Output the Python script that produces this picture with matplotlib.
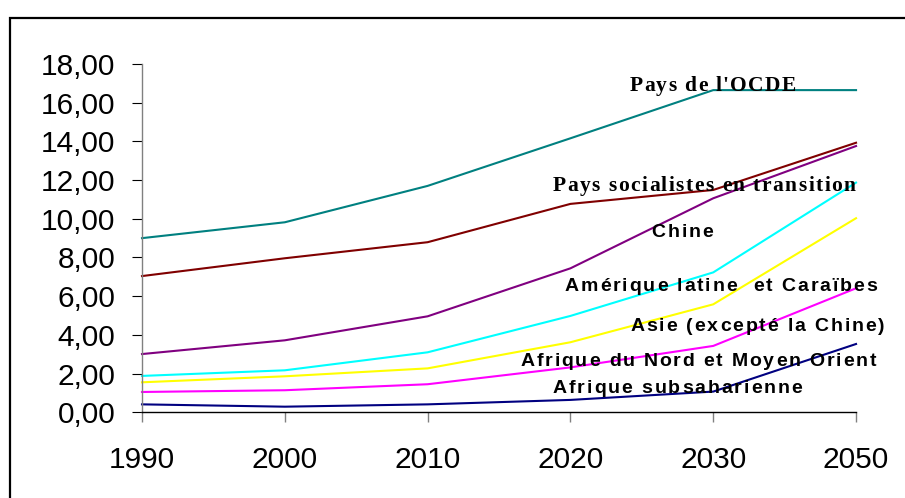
import matplotlib.pyplot as plt
import matplotlib.patches as patches
from matplotlib import font_manager, transforms
from matplotlib.ft2font import FT2Font
from matplotlib.ticker import FuncFormatter

DPI = 100

years = ["1990", "2000", "2010", "2020", "2030", "2050"]

ocde = [9.00, 9.82, 11.70, 14.16, 16.65, 16.65]
socialistes = [7.04, 7.96, 8.79, 10.77, 11.49, 13.93]
chine = [3.01, 3.72, 4.96, 7.44, 11.06, 13.76]
amerique_latine = [1.88, 2.17, 3.10, 4.98, 7.23, 11.87]
asie = [1.55, 1.86, 2.27, 3.62, 5.58, 10.03]
afrique_nord = [1.05, 1.14, 1.45, 2.32, 3.43, 6.41]
afrique_sub = [0.41, 0.29, 0.41, 0.64, 1.07, 3.53]

series = [
    (ocde, "#008080"),
    (socialistes, "#800000"),
    (chine, "#800080"),
    (amerique_latine, "#00FFFF"),
    (asie, "#FFFF00"),
    (afrique_nord, "#FF00FF"),
    (afrique_sub, "#000080"),
]


def spaced_text(ax, x, y, text, family, size, tracking):
    """Draw text char by char with extra spacing (tracking, in pixels)."""
    prop = font_manager.FontProperties(family=family, weight="bold", size=size)
    font = FT2Font(font_manager.findfont(prop))
    font.set_size(size, DPI)
    offset = 0.0
    for ch in text:
        tr = transforms.offset_copy(ax.transData, fig=ax.figure, x=offset,
                                    y=0, units="dots")
        ax.text(x, y, ch, transform=tr, ha="left", va="baseline",
                fontproperties=prop, color="black", zorder=3)
        glyph = font.load_char(ord(ch))
        offset += glyph.linearHoriAdvance / 65536 + tracking


fig = plt.figure(figsize=(9.05, 4.98), dpi=DPI)
ax = fig.add_axes([0.1569, 0.1721, 0.789, 0.6994])

# outer frame of the chart area
frame = patches.Rectangle((10 / 905, -0.1), 1.1, 1 - 18 / 498 + 0.1,
                          transform=fig.transFigure, fill=False,
                          edgecolor="black", linewidth=1.6, zorder=0)
fig.patches.append(frame)

x = list(range(len(years)))
for values, color in series:
    ax.plot(x, values, color=color, linewidth=1.5, clip_on=False, zorder=2)

ax.set_xlim(0, len(years) - 1)
ax.set_ylim(0, 18)
ax.set_yticks(range(0, 19, 2))
ax.yaxis.set_major_formatter(FuncFormatter(lambda v, p: f"{v:.2f}".replace(".", ",")))
ax.set_xticks(x)
ax.set_xticklabels(years)

for side in ("top", "right"):
    ax.spines[side].set_visible(False)
ax.spines["left"].set_color("#808080")
ax.spines["bottom"].set_color("black")
ax.spines["left"].set_linewidth(1.0)
ax.spines["bottom"].set_linewidth(1.0)

ax.tick_params(axis="y", direction="out", length=7, width=0.8, color="black",
               pad=12, labelsize=21.5)
ax.tick_params(axis="x", direction="out", length=7, width=1.0, color="#808080",
               pad=17, labelsize=21.5)
for lab in ax.get_xticklabels() + ax.get_yticklabels():
    lab.set_fontfamily("Liberation Sans")

labels = [
    (3.415, 16.63, "Pays de l'OCDE", "Liberation Serif", 15.5, 1.3),
    (2.876, 11.46, "Pays socialistes en transition", "Liberation Serif", 15.5, 1.45),
    (3.569, 9.07, "Chine", "Liberation Sans", 14, 1.9),
    (2.96, 6.28, "Amérique latine  et Caraïbes", "Liberation Sans", 14, 1.85),
    (3.42, 4.20, "Asie (excepté la Chine)", "Liberation Sans", 14, 1.85),
    (2.652, 2.39, "Afrique du Nord et Moyen Orient", "Liberation Sans", 14, 1.8),
    (2.876, 0.98, "Afrique subsaharienne", "Liberation Sans", 14, 1.9),
]
for lx, ly, text, family, size, tracking in labels:
    spaced_text(ax, lx, ly, text, family, size, tracking)

fig.savefig("out.png", dpi=DPI)
